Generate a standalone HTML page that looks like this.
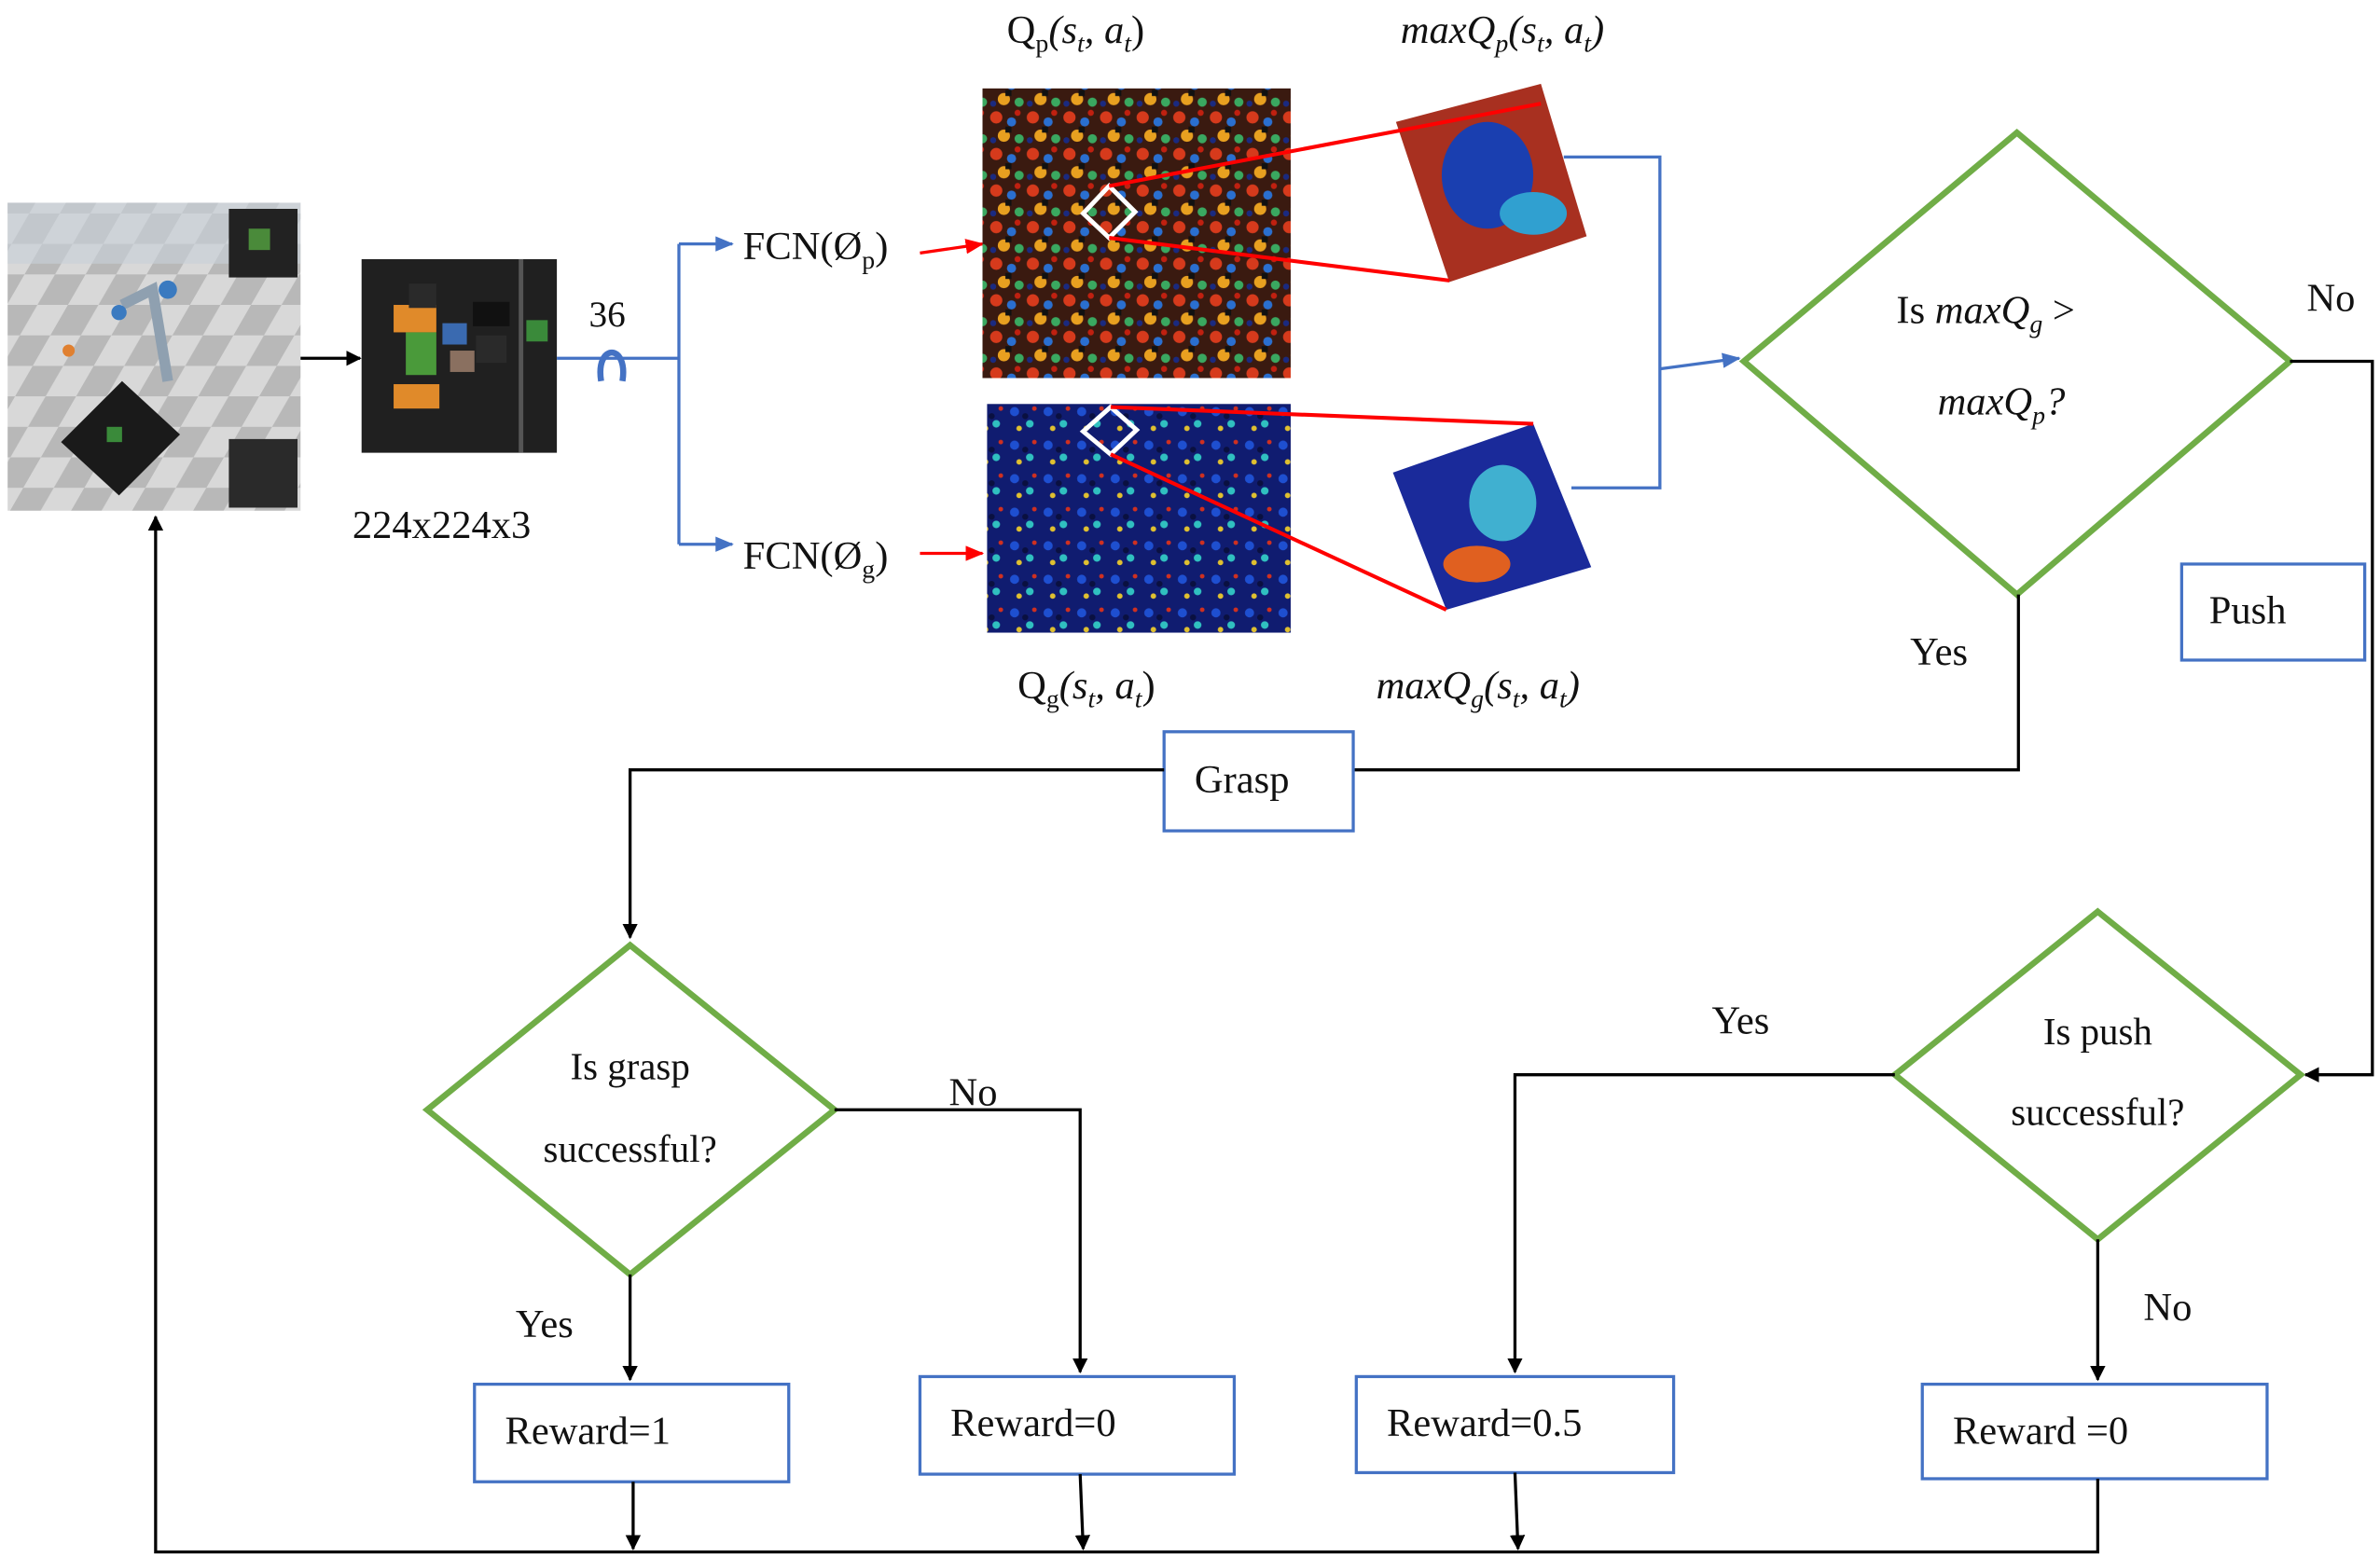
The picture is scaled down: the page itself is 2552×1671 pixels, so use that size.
<!DOCTYPE html>
<html><head><meta charset="utf-8"><style>
html,body{margin:0;padding:0;background:#fff;}
svg{display:block;}
text{font-family:"Liberation Serif",serif;fill:#111;}
.it{font-style:italic;}
</style></head><body>
<svg width="2552" height="1671" viewBox="0 0 1560 1022" preserveAspectRatio="none" xmlns="http://www.w3.org/2000/svg">
<defs>
<marker id="ak" markerWidth="10" markerHeight="10" refX="9" refY="5" orient="auto" markerUnits="userSpaceOnUse"><path d="M0,0 L10,5 L0,10 z" fill="#000"/></marker>
<marker id="ab" markerWidth="12" markerHeight="10" refX="11" refY="5" orient="auto" markerUnits="userSpaceOnUse"><path d="M0,0 L12,5 L0,10 z" fill="#4472c4"/></marker>
<marker id="ar" markerWidth="12" markerHeight="10" refX="11" refY="5" orient="auto" markerUnits="userSpaceOnUse"><path d="M0,0 L12,5 L0,10 z" fill="#ff0000"/></marker>
<pattern id="hp" width="24" height="24" patternUnits="userSpaceOnUse">
<rect width="24" height="24" fill="#3a1a10"/>
<circle cx="5" cy="5" r="4" fill="#d63a1c"/><circle cx="15" cy="8" r="3" fill="#2a6fd0"/>
<circle cx="10" cy="17" r="4" fill="#e8a020"/><circle cx="20" cy="19" r="3" fill="#3aa860"/>
<circle cx="19" cy="2" r="2" fill="#c02010"/><circle cx="3" cy="20" r="2" fill="#1a2a80"/>
<rect x="11" y="11" width="4" height="4" fill="#111"/>
</pattern>
<pattern id="hg" width="22" height="22" patternUnits="userSpaceOnUse">
<rect width="22" height="22" fill="#101c70"/>
<circle cx="5" cy="6" r="3" fill="#1e4fd0"/><circle cx="15" cy="14" r="2.5" fill="#30c0c0"/>
<circle cx="8" cy="17" r="1.8" fill="#e0c030"/><circle cx="18" cy="4" r="1.5" fill="#d03020"/>
<circle cx="12" cy="9" r="2" fill="#0a1040"/>
</pattern>
<pattern id="fl" width="40" height="40" patternUnits="userSpaceOnUse" patternTransform="skewX(-30)">
<rect width="40" height="40" fill="#d8d8d8"/><rect width="20" height="20" fill="#b8b8b8"/><rect x="20" y="20" width="20" height="20" fill="#b8b8b8"/>
</pattern>
</defs>

<!-- left screenshot -->
<rect x="5" y="133" width="192" height="202" fill="url(#fl)"/>
<rect x="5" y="133" width="192" height="40" fill="#c8d0d8" opacity="0.6"/>
<rect x="150" y="137" width="45" height="45" fill="#222"/><rect x="163" y="150" width="14" height="14" fill="#4a8a3a"/>
<rect x="150" y="288" width="45" height="45" fill="#2a2a2a"/>
<polygon points="40,290 80,250 118,285 78,325" fill="#1a1a1a"/>
<rect x="70" y="280" width="10" height="10" fill="#3a8a3a"/>
<path d="M80,200 L100,190 L110,250" stroke="#8fa0b0" stroke-width="7" fill="none"/>
<circle cx="110" cy="190" r="6" fill="#3a7ac0"/><circle cx="78" cy="205" r="5" fill="#3a7ac0"/>
<circle cx="45" cy="230" r="4" fill="#e08030"/>

<line x1="197" y1="235" x2="236" y2="235" stroke="#000" stroke-width="2" marker-end="url(#ak)"/>

<!-- dark image -->
<rect x="237" y="170" width="128" height="127" fill="#202020"/>
<rect x="258" y="200" width="28" height="18" fill="#e08a2a"/><rect x="268" y="186" width="18" height="16" fill="#2a2a2a"/>
<rect x="266" y="218" width="20" height="28" fill="#4a9a3a"/><rect x="290" y="212" width="16" height="14" fill="#3a6ab0"/>
<rect x="295" y="230" width="16" height="14" fill="#8a7060"/><rect x="258" y="252" width="30" height="16" fill="#e08a2a"/>
<rect x="310" y="198" width="24" height="16" fill="#111"/><rect x="312" y="220" width="20" height="18" fill="#2a2a2a"/>
<rect x="345" y="210" width="14" height="14" fill="#3a8a3a"/><rect x="340" y="170" width="3" height="127" fill="#555"/>
<text x="231" y="353" font-size="26">224x224x3</text>

<!-- 36 rotate -->
<text x="386" y="214" font-size="24">36</text>
<path d="M394,250 C390,225 412,225 408,250" stroke="#4472c4" stroke-width="4" fill="none"/>
<line x1="365" y1="235" x2="445" y2="235" stroke="#4472c4" stroke-width="2"/>
<path d="M445,160 L445,357" stroke="#4472c4" stroke-width="2" fill="none"/>
<line x1="445" y1="160" x2="480" y2="160" stroke="#4472c4" stroke-width="2" marker-end="url(#ab)"/>
<line x1="445" y1="357" x2="480" y2="357" stroke="#4472c4" stroke-width="2" marker-end="url(#ab)"/>

<text x="487" y="170" font-size="26">FCN(Ø<tspan font-size="17" dy="6">p</tspan><tspan dy="-6">)</tspan></text>
<text x="487" y="373" font-size="26">FCN(Ø<tspan font-size="17" dy="6">g</tspan><tspan dy="-6">)</tspan></text>
<line x1="603" y1="166" x2="644" y2="160" stroke="#ff0000" stroke-width="2" marker-end="url(#ar)"/>
<line x1="603" y1="363" x2="644" y2="363" stroke="#ff0000" stroke-width="2" marker-end="url(#ar)"/>

<!-- heatmaps -->
<rect x="644" y="58" width="202" height="190" fill="url(#hp)"/>
<rect x="647" y="265" width="199" height="150" fill="url(#hg)"/>
<polygon points="710,140 727,122 744,139 727,156" fill="none" stroke="#fff" stroke-width="3"/>
<polygon points="710,283 728,267 745,282 728,298" fill="none" stroke="#fff" stroke-width="3"/>

<!-- small rotated maps -->
<polygon points="915,80 1010,55 1040,155 950,185" fill="#a83020"/>
<ellipse cx="975" cy="115" rx="30" ry="35" fill="#1a3fb0"/><ellipse cx="1005" cy="140" rx="22" ry="14" fill="#30a0d0"/>
<polygon points="913,310 1005,278 1043,372 948,400" fill="#1a2a9a"/>
<ellipse cx="985" cy="330" rx="22" ry="25" fill="#40b0d0"/><ellipse cx="968" cy="370" rx="22" ry="12" fill="#e06020"/>

<line x1="727" y1="122" x2="1010" y2="68" stroke="#ff0000" stroke-width="2.5"/>
<line x1="727" y1="156" x2="950" y2="184" stroke="#ff0000" stroke-width="2.5"/>
<line x1="728" y1="267" x2="1005" y2="278" stroke="#ff0000" stroke-width="2.5"/>
<line x1="728" y1="298" x2="948" y2="400" stroke="#ff0000" stroke-width="2.5"/>

<text x="660" y="28" font-size="26">Q<tspan font-size="17" dy="6">p</tspan><tspan dy="-6" class="it">(s</tspan><tspan font-size="17" dy="6" class="it">t</tspan><tspan dy="-6" class="it">, a</tspan><tspan font-size="17" dy="6" class="it">t</tspan><tspan dy="-6">)</tspan></text>
<text x="918" y="28" font-size="26" class="it">maxQ<tspan font-size="17" dy="6">p</tspan><tspan dy="-6">(s</tspan><tspan font-size="17" dy="6">t</tspan><tspan dy="-6">, a</tspan><tspan font-size="17" dy="6">t</tspan><tspan dy="-6">)</tspan></text>
<text x="667" y="458" font-size="26">Q<tspan font-size="17" dy="6">g</tspan><tspan dy="-6" class="it">(s</tspan><tspan font-size="17" dy="6" class="it">t</tspan><tspan dy="-6" class="it">, a</tspan><tspan font-size="17" dy="6" class="it">t</tspan><tspan dy="-6">)</tspan></text>
<text x="902" y="458" font-size="26" class="it">maxQ<tspan font-size="17" dy="6">g</tspan><tspan dy="-6">(s</tspan><tspan font-size="17" dy="6">t</tspan><tspan dy="-6">, a</tspan><tspan font-size="17" dy="6">t</tspan><tspan dy="-6">)</tspan></text>

<!-- blue bracket -->
<path d="M1025,103 L1088,103 L1088,320 L1030,320" stroke="#4472c4" stroke-width="2" fill="none"/>
<line x1="1088" y1="242" x2="1140" y2="235" stroke="#4472c4" stroke-width="2" marker-end="url(#ab)"/>

<!-- main diamond -->
<polygon points="1322,87 1501,237 1322,390 1143,237" fill="#fff" stroke="#70ad47" stroke-width="4"/>
<text x="1243" y="212" font-size="26">Is <tspan class="it">maxQ</tspan><tspan class="it" font-size="17" dy="6">g</tspan><tspan dy="-6"> &gt;</tspan></text>
<text x="1270" y="272" font-size="26" class="it">maxQ<tspan font-size="17" dy="6">p</tspan><tspan dy="-6">?</tspan></text>
<text x="1512" y="204" font-size="26">No</text>
<path d="M1501,237 L1555,237 L1555,705 L1511,705" stroke="#000" stroke-width="2" fill="none" marker-end="url(#ak)"/>
<rect x="1430" y="370" width="120" height="63" fill="#fff" stroke="#4472c4" stroke-width="2"/>
<text x="1448" y="409" font-size="26">Push</text>
<text x="1252" y="436" font-size="26">Yes</text>
<path d="M1323,390 L1323,505 L887,505" stroke="#000" stroke-width="2" fill="none"/>
<rect x="763" y="480" width="124" height="65" fill="#fff" stroke="#4472c4" stroke-width="2"/>
<text x="783" y="520" font-size="26">Grasp</text>
<path d="M763,505 L413,505 L413,615" stroke="#000" stroke-width="2" fill="none" marker-end="url(#ak)"/>

<!-- grasp diamond -->
<polygon points="413,620 547,728 413,836 280,728" fill="#fff" stroke="#70ad47" stroke-width="4"/>
<text x="413" y="708" font-size="25" text-anchor="middle">Is grasp</text>
<text x="413" y="762" font-size="25" text-anchor="middle">successful?</text>
<text x="622" y="725" font-size="26">No</text>
<path d="M547,728 L708,728 L708,900" stroke="#000" stroke-width="2" fill="none" marker-end="url(#ak)"/>
<text x="338" y="877" font-size="26">Yes</text>
<line x1="413" y1="836" x2="413" y2="905" stroke="#000" stroke-width="2" marker-end="url(#ak)"/>

<!-- push diamond -->
<polygon points="1375,598 1508,705 1375,813 1242,705" fill="#fff" stroke="#70ad47" stroke-width="4"/>
<text x="1375" y="685" font-size="25" text-anchor="middle">Is push</text>
<text x="1375" y="738" font-size="25" text-anchor="middle">successful?</text>
<text x="1122" y="678" font-size="26">Yes</text>
<path d="M1242,705 L993,705 L993,900" stroke="#000" stroke-width="2" fill="none" marker-end="url(#ak)"/>
<text x="1405" y="866" font-size="26">No</text>
<line x1="1375" y1="813" x2="1375" y2="905" stroke="#000" stroke-width="2" marker-end="url(#ak)"/>

<!-- reward boxes -->
<rect x="311" y="908" width="206" height="64" fill="#fff" stroke="#4472c4" stroke-width="2"/>
<text x="331" y="947" font-size="26">Reward=1</text>
<rect x="603" y="903" width="206" height="64" fill="#fff" stroke="#4472c4" stroke-width="2"/>
<text x="623" y="942" font-size="26">Reward=0</text>
<rect x="889" y="903" width="208" height="63" fill="#fff" stroke="#4472c4" stroke-width="2"/>
<text x="909" y="942" font-size="26">Reward=0.5</text>
<rect x="1260" y="908" width="226" height="62" fill="#fff" stroke="#4472c4" stroke-width="2"/>
<text x="1280" y="947" font-size="26">Reward =0</text>

<!-- feedback -->
<path d="M1375,970 L1375,1018 L102,1018 L102,339" stroke="#000" stroke-width="2" fill="none" marker-end="url(#ak)"/>
<line x1="415" y1="972" x2="415" y2="1016" stroke="#000" stroke-width="2" marker-end="url(#ak)"/>
<line x1="708" y1="967" x2="710" y2="1016" stroke="#000" stroke-width="2" marker-end="url(#ak)"/>
<line x1="993" y1="966" x2="995" y2="1016" stroke="#000" stroke-width="2" marker-end="url(#ak)"/>
</svg>
</body></html>
